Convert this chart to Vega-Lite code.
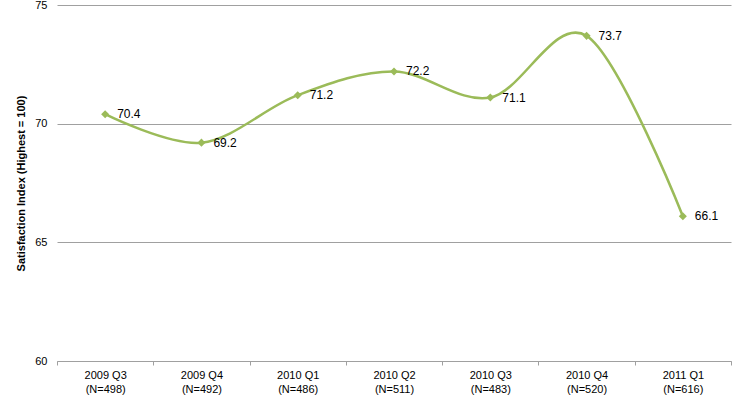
{
  "$schema": "https://vega.github.io/schema/vega-lite/v6.json",
  "width": 674,
  "height": 356,
  "autosize": "none",
  "padding": {"left": 57, "top": 5, "right": 15, "bottom": 34},
  "background": "white",
  "config": {"view": {"stroke": null}, "font": "Liberation Sans"},
  "data": {
    "values": [
      {"period": "2009 Q3|(N=498)", "score": 70.4},
      {"period": "2009 Q4|(N=492)", "score": 69.2},
      {"period": "2010 Q1|(N=486)", "score": 71.2},
      {"period": "2010 Q2|(N=511)", "score": 72.2},
      {"period": "2010 Q3|(N=483)", "score": 71.1},
      {"period": "2010 Q4|(N=520)", "score": 73.7},
      {"period": "2011 Q1|(N=616)", "score": 66.1}
    ]
  },
  "encoding": {
    "x": {
      "field": "period",
      "type": "nominal",
      "sort": null,
      "scale": {"paddingInner": 0, "paddingOuter": 0},
      "axis": {
        "title": null,
        "labelAngle": 0,
        "labelExpr": "datum.value ? split(datum.value, '|') : ''",
        "labelFont": "Liberation Sans",
        "labelFontSize": 11,
        "labelColor": "#000000",
        "labelLineHeight": 14,
        "labelPadding": 4,
        "tickBand": "extent",
        "tickSize": 4,
        "tickColor": "#a0a0a0",
        "domainColor": "#a0a0a0",
        "grid": false
      }
    },
    "y": {
      "field": "score",
      "type": "quantitative",
      "scale": {"domain": [60, 75], "nice": false, "zero": false},
      "axis": {
        "title": "Satisfaction Index (Highest = 100)",
        "titleFont": "Liberation Sans",
        "titleFontSize": 11,
        "titleFontWeight": "bold",
        "titleColor": "#000000",
        "titlePadding": 8,
        "values": [60, 65, 70, 75],
        "labelFont": "Liberation Sans",
        "labelFontSize": 11,
        "labelColor": "#000000",
        "labelPadding": 10,
        "ticks": false,
        "domain": false,
        "grid": true,
        "gridColor": "#a0a0a0",
        "gridWidth": 1
      }
    }
  },
  "layer": [
    {
      "mark": {"type": "line", "interpolate": "cardinal", "color": "#9bbb59", "strokeWidth": 2.5}
    },
    {
      "mark": {"type": "point", "shape": "diamond", "filled": true, "opacity": 1, "color": "#9bbb59", "size": 65}
    },
    {
      "mark": {"type": "text", "align": "left", "baseline": "middle", "dx": 12, "fontSize": 12, "font": "Liberation Sans", "color": "#000000"},
      "encoding": {"text": {"field": "score", "type": "quantitative", "format": ".1f"}}
    }
  ]
}
